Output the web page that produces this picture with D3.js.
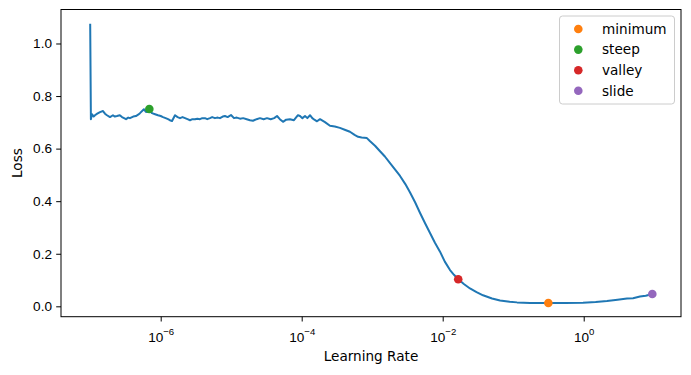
<!DOCTYPE html>
<html>
<head>
<meta charset="utf-8">
<script src="https://cdn.jsdelivr.net/npm/d3@7"></script>
<style>
    body { margin: 0; background: #fff; }
    svg { display: block; font-family: "DejaVu Sans", sans-serif; }
</style>
</head>
<body>
<svg id="chart"></svg>
<script>
// log10 of the learning rate for each recorded step
const logLr = [
    -7.00, -6.99, -6.975, -6.95, -6.932, -6.90, -6.861, -6.818, -6.79, -6.762,
    -6.719, -6.677, -6.65, -6.62, -6.58, -6.549, -6.52, -6.492, -6.46, -6.436,
    -6.39, -6.351, -6.32, -6.294, -6.238, -6.21, -6.194, -6.162, -6.124, -6.08,
    -6.038, -6.00, -5.967, -5.93, -5.896, -5.87, -5.839, -5.797, -5.76, -5.726,
    -5.69, -5.655, -5.62, -5.584, -5.55, -5.513, -5.48, -5.443, -5.41, -5.372,
    -5.34, -5.301, -5.27, -5.23, -5.19, -5.159, -5.12, -5.088, -5.05, -5.003,
    -4.96, -4.92, -4.875, -4.83, -4.78, -4.733, -4.691, -4.64, -4.592, -4.54,
    -4.492, -4.44, -4.39, -4.35, -4.31, -4.265, -4.22, -4.166, -4.11, -4.053,
    -4.024, -3.99, -3.953, -3.92, -3.882, -3.85, -3.82, -3.783, -3.74, -3.67,
    -3.599, -3.53, -3.458, -3.39, -3.316, -3.25, -3.20, -3.15, -3.075, -3.03,
    -2.96, -2.889, -2.82, -2.747, -2.68, -2.605, -2.53, -2.463, -2.39, -2.321,
    -2.25, -2.18, -2.11, -2.038, -1.97, -1.896, -1.84, -1.779, -1.70, -1.613,
    -1.52, -1.428, -1.30, -1.187, -1.05, -0.946, -0.76, -0.502, -0.265, -0.010,
    0.17, 0.33, 0.48, 0.614, 0.70, 0.798, 0.88, 0.973
];

const losses = [
    1.075, 0.712, 0.731, 0.722, 0.727, 0.733, 0.739, 0.743, 0.733, 0.727,
    0.720, 0.727, 0.722, 0.724, 0.727, 0.720, 0.716, 0.712, 0.718, 0.716,
    0.722, 0.724, 0.729, 0.735, 0.750, 0.740, 0.739, 0.751, 0.735, 0.731,
    0.727, 0.724, 0.720, 0.716, 0.712, 0.708, 0.705, 0.727, 0.720, 0.716,
    0.720, 0.716, 0.712, 0.708, 0.712, 0.712, 0.714, 0.712, 0.716, 0.716,
    0.712, 0.716, 0.720, 0.716, 0.718, 0.716, 0.722, 0.724, 0.720, 0.728,
    0.716, 0.718, 0.714, 0.716, 0.712, 0.708, 0.706, 0.712, 0.716, 0.712,
    0.716, 0.712, 0.716, 0.724, 0.712, 0.702, 0.710, 0.712, 0.708, 0.727,
    0.724, 0.716, 0.724, 0.716, 0.727, 0.716, 0.710, 0.704, 0.712, 0.701,
    0.687, 0.684, 0.679, 0.672, 0.664, 0.652, 0.645, 0.642, 0.640, 0.628,
    0.611, 0.590, 0.570, 0.545, 0.522, 0.496, 0.465, 0.433, 0.395, 0.355,
    0.316, 0.279, 0.242, 0.208, 0.170, 0.138, 0.120, 0.103, 0.085, 0.068,
    0.054, 0.042, 0.030, 0.022, 0.017, 0.015, 0.013, 0.0125, 0.0125, 0.0137,
    0.016, 0.020, 0.025, 0.030, 0.031, 0.037, 0.040, 0.047
];

// suggested learning rates (legend order)
const suggestNames = ['minimum', 'steep', 'valley', 'slide'];
const suggestLr = [0.315, 6.9e-7, 0.0166, 9.4];
const suggestLoss = [0.0125, 0.751, 0.103, 0.047];
const suggestColors = ['#ff7f0e', '#2ca02c', '#d62728', '#9467bd'];

const xTickExps = [-6, -4, -2, 0];
const yTicks = [0.0, 0.2, 0.4, 0.6, 0.8, 1.0];

const width = 691, height = 375;
const margin = {top: 9.5, right: 10, bottom: 58.3, left: 61};
const innerW = width - margin.left - margin.right;
const innerH = height - margin.top - margin.bottom;
const fontSize = '13.6px';

const svg = d3.select('#chart')
    .attr('width', width)
    .attr('height', height);

const chart = svg.append('g')
    .attr('transform', `translate(${margin.left}, ${margin.top})`);

const xscale = d3.scaleLog()
    .domain([Math.pow(10, -7.414), Math.pow(10, 1.38)])
    .range([0, innerW]);

const yscale = d3.scaleLinear()
    .domain([-0.0395, 1.1293])
    .range([innerH, 0]);

const points = logLr.map((e, i) => ({lr: Math.pow(10, e), loss: losses[i]}));

// line
const line = d3.line()
    .x(d => xscale(d.lr))
    .y(d => yscale(d.loss));

chart.append('path')
    .datum(points)
    .attr('fill', 'none')
    .attr('stroke', '#1f77b4')
    .attr('stroke-width', 2)
    .attr('stroke-linejoin', 'round')
    .attr('d', line);

// suggestion markers
chart.selectAll('circle.sugg')
    .data(suggestNames)
    .enter()
    .append('circle')
    .attr('class', 'sugg')
    .attr('cx', (d, i) => xscale(suggestLr[i]))
    .attr('cy', (d, i) => yscale(suggestLoss[i]))
    .attr('r', 4.3)
    .attr('fill', (d, i) => suggestColors[i]);

// axes
const xaxis = d3.axisBottom(xscale)
    .tickValues(xTickExps.map(e => Math.pow(10, e)))
    .tickSize(4.8)
    .tickFormat('');

const yaxis = d3.axisLeft(yscale)
    .tickValues(yTicks)
    .tickSize(4.8)
    .tickPadding(4.2)
    .tickFormat(d3.format('.1f'));

const xg = chart.append('g')
    .attr('transform', `translate(0, ${innerH})`)
    .call(xaxis);

const yg = chart.append('g').call(yaxis);

[xg, yg].forEach(g => {
    g.select('.domain').remove();
    g.selectAll('line').attr('stroke', '#000').attr('stroke-width', 1);
    g.selectAll('text').attr('fill', '#000').style('font-size', fontSize);
});

// x tick labels as 10^n
xg.selectAll('.tick')
    .append('text')
    .attr('y', 25)
    .attr('text-anchor', 'middle')
    .attr('fill', '#000')
    .style('font-size', fontSize)
    .each(function(d) {
        const t = d3.select(this);
        const e = Math.round(Math.log10(d));
        t.append('tspan').text('10');
        t.append('tspan')
            .attr('dy', -6.5)
            .style('font-size', '9.6px')
            .text(e < 0 ? '\u2212' + Math.abs(e) : String(e));
    });

// frame
chart.append('rect')
    .attr('width', innerW)
    .attr('height', innerH)
    .attr('fill', 'none')
    .attr('stroke', '#000')
    .attr('stroke-width', 1);

// axis labels
svg.append('text')
    .attr('x', margin.left + innerW / 2)
    .attr('y', 361)
    .attr('text-anchor', 'middle')
    .style('font-size', fontSize)
    .text('Learning Rate');

svg.append('text')
    .attr('transform', `translate(21.7, ${margin.top + innerH / 2}) rotate(-90)`)
    .attr('text-anchor', 'middle')
    .style('font-size', fontSize)
    .text('Loss');

// legend
const legend = svg.append('g')
    .attr('transform', 'translate(559.5, 16)');

legend.append('rect')
    .attr('width', 115)
    .attr('height', 88)
    .attr('rx', 3)
    .attr('fill', 'rgba(255,255,255,0.8)')
    .attr('stroke', '#cccccc')
    .attr('stroke-width', 1);

const items = legend.selectAll('g.item')
    .data(suggestNames)
    .enter()
    .append('g')
    .attr('class', 'item')
    .attr('transform', (d, i) => `translate(0, ${13 + i * 20.6})`);

items.append('circle')
    .attr('cx', 18.8)
    .attr('r', 4.3)
    .attr('fill', (d, i) => suggestColors[i]);

items.append('text')
    .attr('x', 42.5)
    .attr('dy', '0.35em')
    .style('font-size', fontSize)
    .text(d => d);
</script>
</body>
</html>
